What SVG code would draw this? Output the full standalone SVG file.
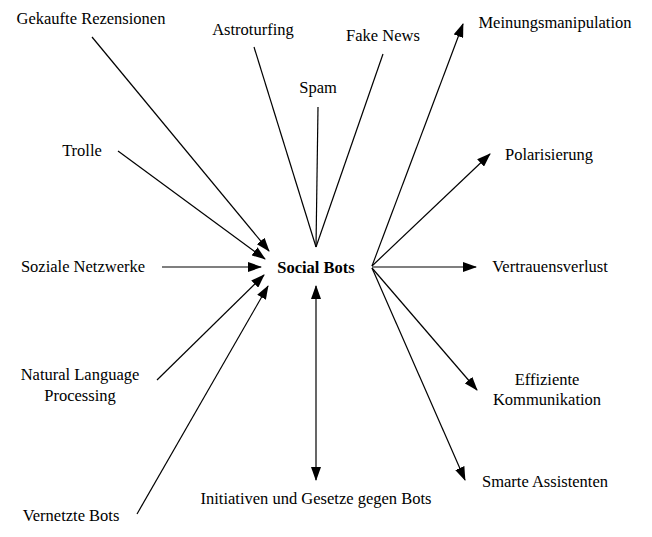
<svg xmlns="http://www.w3.org/2000/svg" width="652" height="537" viewBox="0 0 652 537">
<defs>
<marker id="ah" markerUnits="userSpaceOnUse" markerWidth="14" markerHeight="10" refX="13" refY="5" orient="auto-start-reverse" viewBox="0 0 14 10">
<path d="M0,0 L14,5 L0,10 Z" fill="#000"/>
</marker>
<style>
text{font-family:"Liberation Serif","Times New Roman",serif;font-size:16.5px;fill:#000;text-anchor:middle}
.b{font-weight:bold}
line{stroke:#000;stroke-width:1.2}
.a{marker-end:url(#ah)}
.d{marker-start:url(#ah);marker-end:url(#ah)}
</style>
</defs>
<rect width="652" height="537" fill="#fff"/>
<g id="connectors">
<line class="a" x1="92" y1="37" x2="269" y2="251"/>
<line class="a" x1="118" y1="151" x2="265" y2="259"/>
<line class="a" x1="162" y1="267" x2="261" y2="267"/>
<line class="a" x1="157" y1="380" x2="264" y2="275"/>
<line class="a" x1="137" y1="514" x2="268" y2="286"/>
<line x1="254" y1="47" x2="316" y2="247"/>
<line x1="318" y1="107" x2="316" y2="247"/>
<line x1="383" y1="54" x2="316" y2="247"/>
<line class="a" x1="372" y1="266" x2="463" y2="24"/>
<line class="a" x1="372" y1="266" x2="490" y2="154"/>
<line class="a" x1="372" y1="267" x2="476" y2="267"/>
<line class="a" x1="372" y1="268" x2="477" y2="390"/>
<line class="a" x1="372" y1="268" x2="465" y2="480"/>
<line class="d" x1="316" y1="286" x2="316" y2="480"/>
</g>
<g id="social-bots"><text class="b" x="316" y="273">Social Bots</text></g>
<g id="gekaufte"><text x="91" y="24">Gekaufte Rezensionen</text></g>
<g id="astroturfing"><text x="253" y="35">Astroturfing</text></g>
<g id="fake-news"><text x="383" y="41">Fake News</text></g>
<g id="spam"><text x="318" y="93">Spam</text></g>
<g id="meinung"><text x="555" y="28">Meinungsmanipulation</text></g>
<g id="polar"><text x="549" y="160">Polarisierung</text></g>
<g id="trolle"><text x="82" y="156">Trolle</text></g>
<g id="soziale"><text x="83" y="272">Soziale Netzwerke</text></g>
<g id="vertrauen"><text x="550" y="272">Vertrauensverlust</text></g>
<g id="nlp"><text x="80" y="380">Natural Language</text><text x="80" y="401">Processing</text></g>
<g id="effizient"><text x="547" y="385">Effiziente</text><text x="547" y="405">Kommunikation</text></g>
<g id="vernetzt"><text x="71" y="521">Vernetzte Bots</text></g>
<g id="smarte"><text x="545" y="487">Smarte Assistenten</text></g>
<g id="initiativen"><text x="316" y="504">Initiativen und Gesetze gegen Bots</text></g>
</svg>
